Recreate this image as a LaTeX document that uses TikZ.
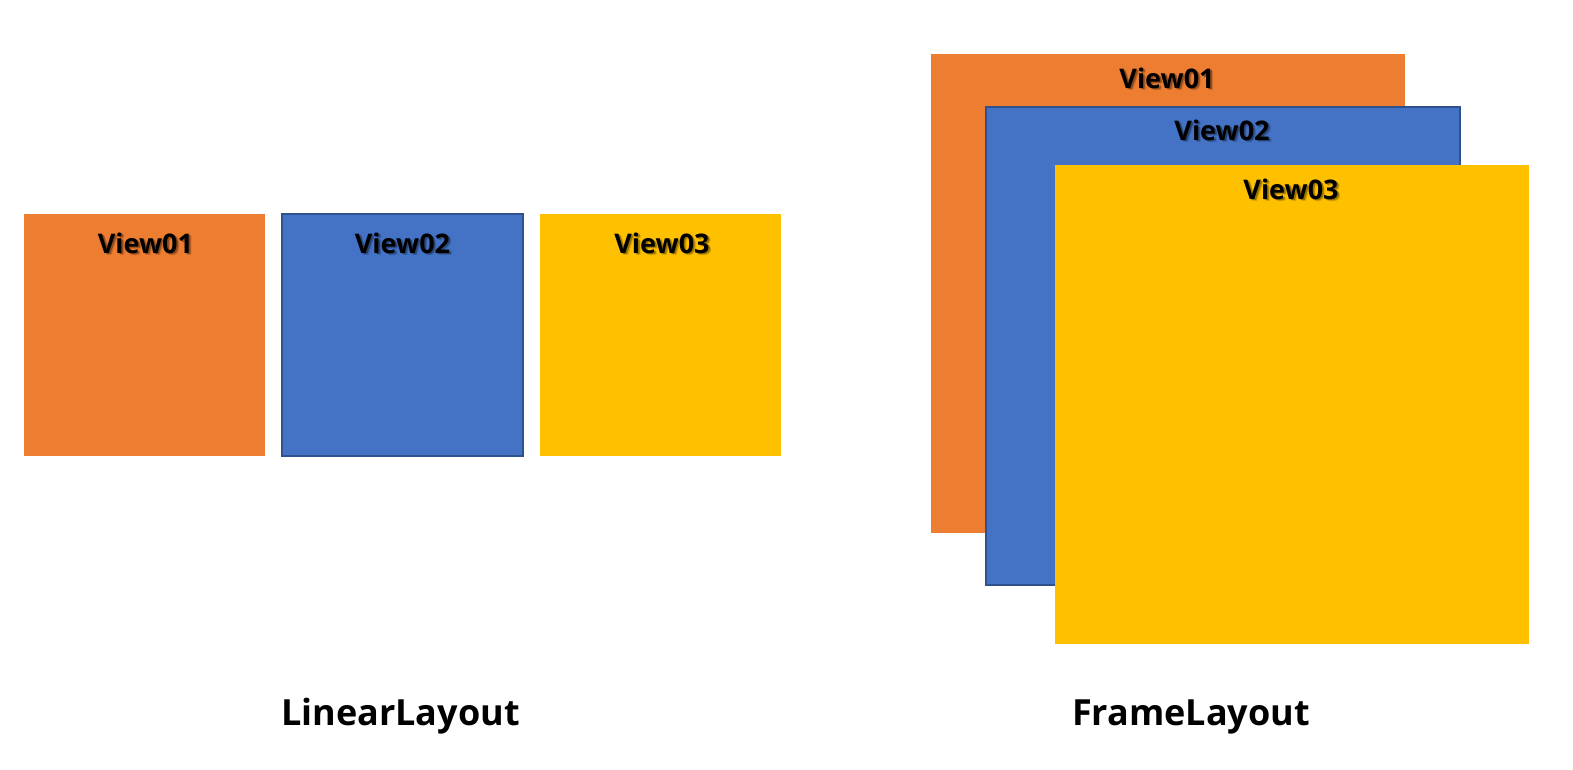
\documentclass[tikz,border=0pt]{standalone}
\usepackage{fontspec}
\setmainfont{Open Sans}
\definecolor{vorange}{HTML}{ED7D31}
\definecolor{vblue}{HTML}{4472C4}
\definecolor{vblueb}{HTML}{2F528F}
\definecolor{vyellow}{HTML}{FFC000}
\tikzset{
  box/.style={rectangle, inner sep=0pt, outer sep=0pt, anchor=north west},
  obox/.style={box, fill=vorange},
  bbox/.style={box, fill=vblue, draw=vblueb, line width=1.6pt},
  ybox/.style={box, fill=vyellow},
  vlabel/.style={anchor=base, inner sep=0pt, font=\bfseries\fontsize{27}{30}\selectfont, text=black},
  vshadow/.style={vlabel, text=black, opacity=0.3},
  title/.style={anchor=base, inner sep=0pt, font=\bfseries\fontsize{36}{40}\selectfont, text=black}
}
\newcommand{\viewlabel}[3]{%
  \node[vshadow] at ([xshift=1.6pt,yshift=-1.6pt]#1) {#2};
  \node[vshadow, opacity=0.15] at ([xshift=2.6pt,yshift=-2.6pt]#1) {#2};
  \node[vlabel] (#3) at (#1) {#2};
}
\begin{document}
\begin{tikzpicture}[x=1pt,y=-1pt]
\useasboundingbox (0,0) rectangle (1573,769);
% LinearLayout
\node[obox, minimum width=241pt, minimum height=242pt] (l1) at (24,214) {};
\node[bbox, minimum width=241.4pt, minimum height=242.4pt] (l2) at (281.8,213.8) {};
\node[ybox, minimum width=241pt, minimum height=242pt] (l3) at (540,214) {};
\coordinate (l1t) at (145.5,253);
\coordinate (l2t) at (402.5,253);
\coordinate (l3t) at (662,253);
\viewlabel{l1t}{View01}{l1l}
\viewlabel{l2t}{View02}{l2l}
\viewlabel{l3t}{View03}{l3l}
% FrameLayout
\node[obox, minimum width=474pt, minimum height=479pt] (f1) at (931,54) {};
\node[bbox, minimum width=474.4pt, minimum height=478.4pt] (f2) at (985.8,106.8) {};
\node[ybox, minimum width=474pt, minimum height=479pt] (f3) at (1055,165) {};
\coordinate (f1t) at (1167,88);
\coordinate (f2t) at (1222,140);
\coordinate (f3t) at (1291,199);
\viewlabel{f1t}{View01}{f1l}
\viewlabel{f2t}{View02}{f2l}
\viewlabel{f3t}{View03}{f3l}
% titles
\node[title] (lt) at (400.5,725) {LinearLayout};
\node[title] (ft) at (1191,725) {FrameLayout};
\end{tikzpicture}
\end{document}
